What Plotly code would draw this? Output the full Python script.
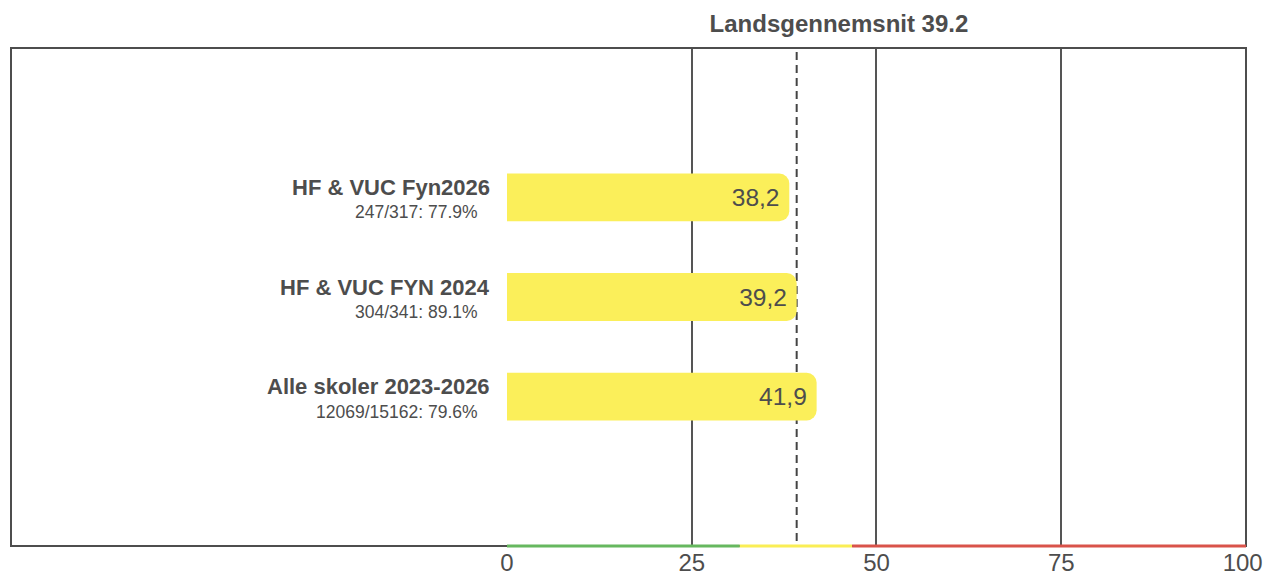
# Horizontal bar chart: score per school vs national average
import plotly.graph_objects as go

# Data
labels = ["HF & VUC Fyn2026", "HF & VUC FYN 2024", "Alle skoler 2023-2026"]
sublabels = ["247/317: 77.9%", "304/341: 89.1%", "12069/15162: 79.6%"]
values = [38.2, 39.2, 41.9]
positions = [1, 2, 3]
national_avg = 39.2
tick_vals = [0, 25, 50, 75, 100]
tick_text = ["0", "25", "50", "75", "100\u00a0"]

# Colour band under the axis (green / yellow / red)
band_edges = [0, 31.5, 46.7, 100]
band_colors = ["#66b85f", "#faee55", "#d9534a"]

text_color = "#4d4d4d"
font = "Liberation Sans, Arial, sans-serif"

bar_text = [f"{v:.1f}".replace(".", ",") + "\u00a0" for v in values]

fig = go.Figure()
fig.add_trace(go.Bar(
    x=values,
    y=positions,
    orientation="h",
    width=0.48,
    marker=dict(color="#fbef5a", cornerradius=10, line=dict(width=0)),
    text=bar_text,
    textposition="inside",
    insidetextanchor="end",
    textfont=dict(size=24.5, color=text_color, family=font),
    hoverinfo="skip",
))

shapes = []
# frame around the whole plot area
shapes.append(dict(type="rect", xref="paper", yref="paper", x0=0, x1=1, y0=0, y1=1,
                   line=dict(color="#4d4d4d", width=2), layer="above"))
# national average dashed line
shapes.append(dict(type="line", xref="x", yref="paper", x0=national_avg, x1=national_avg,
                   y0=0.01, y1=1, line=dict(color="#444444", width=2, dash="8px,5px"),
                   layer="below"))
# colour band
for i, c in enumerate(band_colors):
    shapes.append(dict(type="line", xref="x", yref="paper", x0=band_edges[i], x1=band_edges[i + 1],
                       y0=0, y1=0, line=dict(color=c, width=3), layer="above"))

annotations = []
for p, lab, sub in zip(positions, labels, sublabels):
    annotations.append(dict(xref="paper", yref="y", x=0.3895, y=p - 0.1, text=f"<b>{lab}</b>",
                            showarrow=False, xanchor="right", yanchor="middle",
                            font=dict(size=22, color=text_color, family=font)))
    annotations.append(dict(xref="paper", yref="y", x=0.3798, y=p + 0.15, text=sub,
                            showarrow=False, xanchor="right", yanchor="middle",
                            font=dict(size=17.5, color=text_color, family=font)))

fig.update_layout(
    width=1266, height=573,
    margin=dict(l=11, r=20, t=48, b=27, autoexpand=False),
    paper_bgcolor="white", plot_bgcolor="white",
    showlegend=False,
    title=dict(text=f"<b>Landsgennemsnit {national_avg}</b>", x=0.6627, xref="container",
               xanchor="center", y=1 - 24 / 573, yref="container", yanchor="middle",
               font=dict(size=24, color=text_color, family=font)),
    xaxis=dict(range=[0, 100], domain=[0.4016, 1], tickvals=tick_vals, ticktext=tick_text,
               showgrid=True, gridcolor="#555555", gridwidth=2, zeroline=False, showline=False,
               automargin=False, ticklabeloverflow="allow",
               tickfont=dict(size=24, color=text_color, family=font), fixedrange=True),
    yaxis=dict(range=[4.5, -0.5], showticklabels=False, showgrid=False, zeroline=False,
               automargin=False, fixedrange=True),
    shapes=shapes,
    annotations=annotations,
)

# drop the default page margin so the figure fills the window exactly
fig.write_html("out.html", config={"displayModeBar": False},
               post_script="document.body.style.margin='0';document.body.style.overflow='hidden';")
